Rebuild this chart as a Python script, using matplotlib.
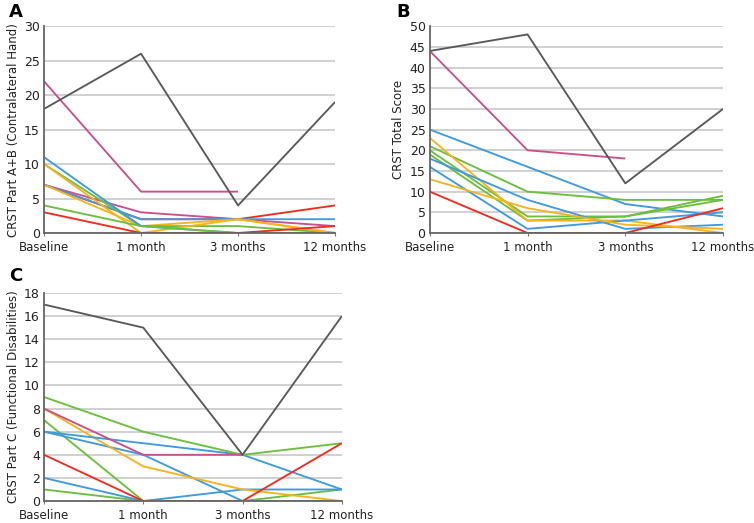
import numpy as np
import matplotlib.pyplot as plt

nan = np.nan
categories = ["Baseline", "1 month", "3 months", "12 months"]

GRAY = "#595959"
MAGENTA = "#c8508c"
BLUE = "#3f9ade"
GREEN = "#6cbf3e"
ORANGE = "#f7b31c"
RED = "#ef2c22"

# Panel A: CRST Part A+B (contralateral hand)
a_gray = [18, 26, 4, 19]
a_magenta1 = [22, 6, 6, nan]
a_magenta2 = [7, 3, 2, 1]
a_red2 = [7, 2, 2, 4]
a_blue1 = [11, 1, 0, 0]
a_blue2 = [7, 2, 2, 2]
a_green1 = [10, 1, 1, 0]
a_orange1 = [10, 0, 2, 0]
a_orange2 = [7, 1, 2, 0]
a_green2 = [4, 1, 0, 0]
a_red1 = [3, 0, 0, 1]

# Panel B: CRST total score
b_gray = [44, 48, 12, 30]
b_magenta = [44, 20, 18, nan]
b_blue1 = [25, 16, 7, 4]
b_green1 = [21, 10, 8, 8]
b_green2 = [20, 4, 4, 9]
b_green3 = [19, 3, 4, 8]
b_orange1 = [23, 3, 3, 0]
b_blue2 = [18, 8, 1, 2]
b_blue3 = [16, 1, 3, 5]
b_orange2 = [13, 6, 2, 1]
b_red = [10, 0, 0, 6]

# Panel C: CRST Part C (functional disabilities)
c_gray = [17, 15, 4, 16]
c_magenta = [8, 4, 4, nan]
c_green1 = [9, 6, 4, 5]
c_orange = [8, 3, 1, 0]
c_green2 = [7, 0, 0, 1]
c_blue1 = [6, 5, 4, 1]
c_blue2 = [6, 4, 0, 0]
c_red = [4, 0, 0, 5]
c_blue3 = [2, 0, 1, 1]
c_green3 = [1, 0, 0, 0]

panel_a = [(a_red2, RED), (a_magenta2, MAGENTA), (a_blue2, BLUE), (a_orange2, ORANGE),
           (a_green1, GREEN), (a_orange1, ORANGE), (a_blue1, BLUE), (a_green2, GREEN),
           (a_red1, RED), (a_magenta1, MAGENTA), (a_gray, GRAY)]
panel_b = [(b_blue1, BLUE), (b_green1, GREEN), (b_green2, GREEN), (b_green3, GREEN),
           (b_orange1, ORANGE), (b_blue2, BLUE), (b_blue3, BLUE), (b_orange2, ORANGE),
           (b_red, RED), (b_magenta, MAGENTA), (b_gray, GRAY)]
panel_c = [(c_green2, GREEN), (c_green3, GREEN), (c_blue3, BLUE), (c_blue2, BLUE),
           (c_orange, ORANGE), (c_blue1, BLUE), (c_green1, GREEN), (c_magenta, MAGENTA),
           (c_red, RED), (c_gray, GRAY)]

plt.rcParams["font.family"] = ["DejaVu Sans"]

fig = plt.figure(figsize=(7.54, 5.23), dpi=100)
ax_a = fig.add_axes([0.0584, 0.5545, 0.386, 0.3955])
ax_b = fig.add_axes([0.570, 0.5545, 0.389, 0.3955])
ax_c = fig.add_axes([0.0584, 0.042, 0.395, 0.3978])


def draw_panel(ax, series, ymax, step, ylabel, letter, lx, ly):
    x = np.arange(len(categories))
    for vals, col in series:
        ax.plot(x, vals, color=col, lw=1.35, solid_capstyle="butt")
    ax.set_xlim(0, len(categories) - 1)
    ax.set_ylim(0, ymax)
    ax.set_yticks(np.arange(0, ymax + 1, step))
    ax.set_xticks(x)
    ax.set_xticklabels(categories, fontsize=8.5, color="#222222")
    ax.tick_params(axis="y", length=0, labelsize=9, colors="#222222", pad=3)
    ax.tick_params(axis="x", length=2, color="#777777", pad=3.5)
    ax.grid(axis="y", color="#c8c8c8", lw=1.2)
    ax.set_axisbelow(True)
    for s in ["top", "right"]:
        ax.spines[s].set_visible(False)
    for s in ["left", "bottom"]:
        ax.spines[s].set_color("#666666")
        ax.spines[s].set_linewidth(1.3)
    ax.set_ylabel(ylabel, fontsize=8.5, color="#222222", labelpad=3)
    fig.text(lx, ly, letter, fontsize=13, fontweight="bold", ha="left", va="top")


draw_panel(ax_a, panel_a, 30, 5, "CRST Part A+B (Contralateral Hand)", "A", 0.012, 0.995)
draw_panel(ax_b, panel_b, 50, 5, "CRST Total Score", "B", 0.526, 0.995)
draw_panel(ax_c, panel_c, 18, 2, "CRST Part C (Functional Disabilities)", "C", 0.012, 0.49)

fig.savefig("out.png", dpi=100)
